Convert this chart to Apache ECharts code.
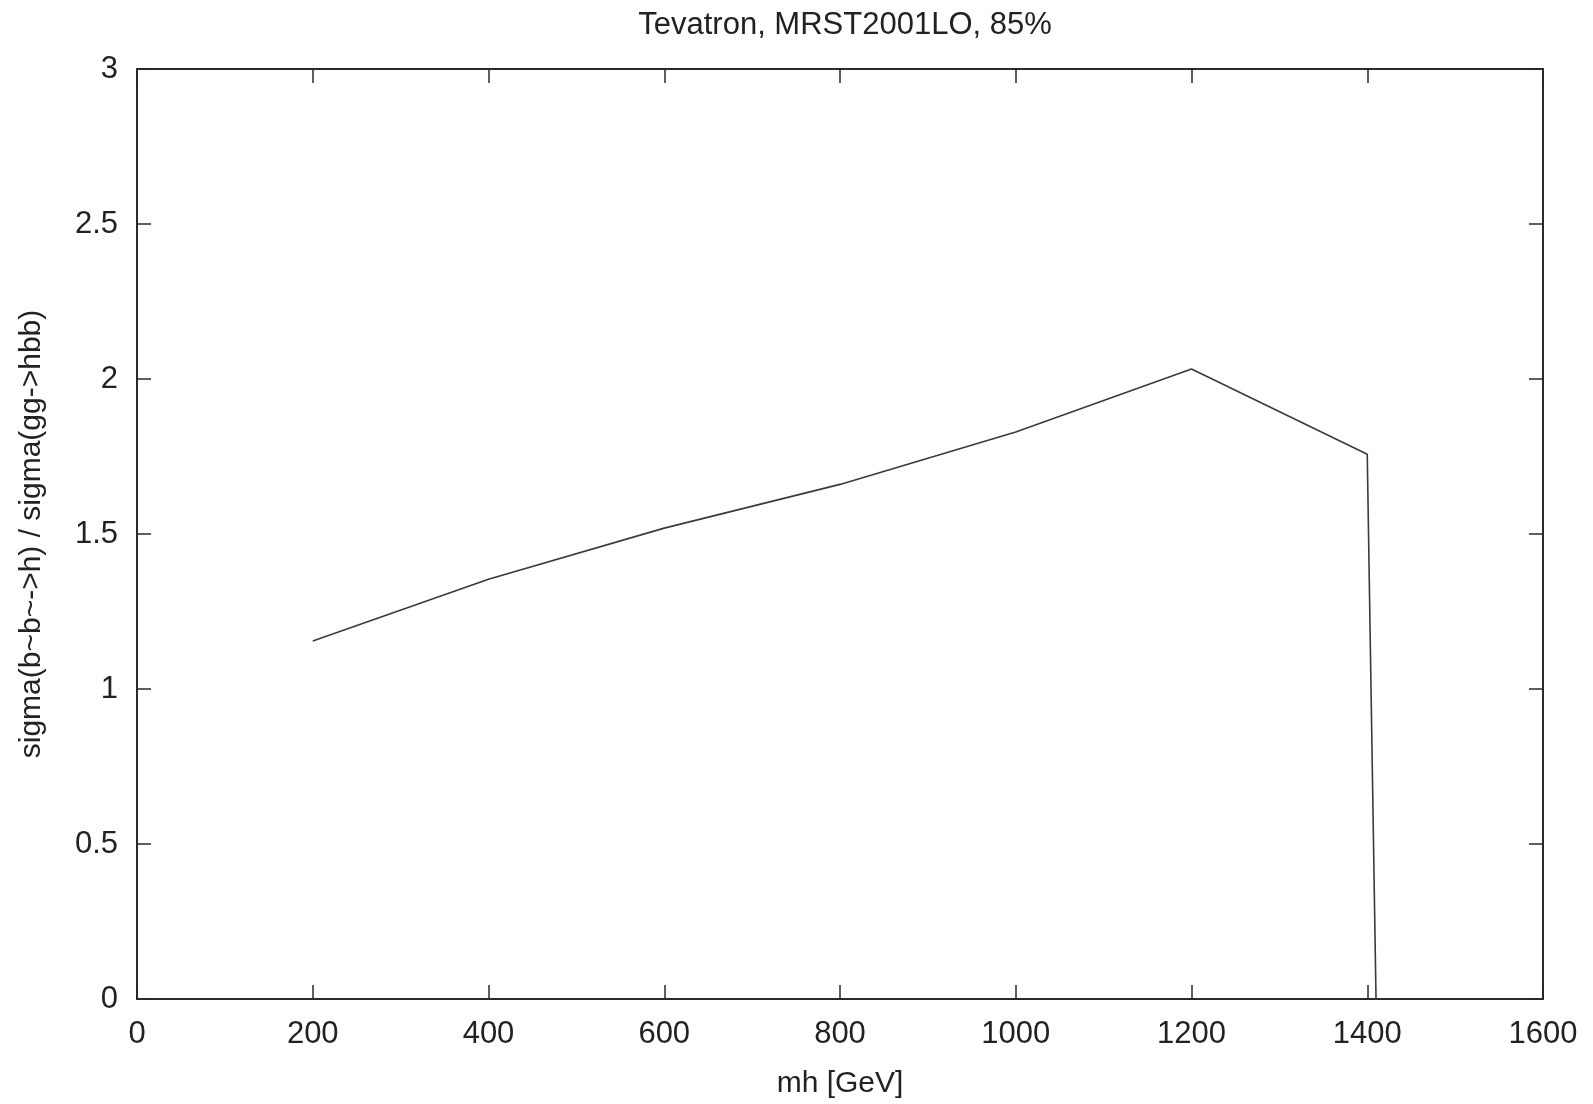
<!DOCTYPE html>
<html>
<head>
<meta charset="utf-8">
<script src="https://cdn.jsdelivr.net/npm/echarts@6/dist/echarts.min.js"></script>
<style>
html,body{margin:0;padding:0;background:#fff;}
#chart{width:1593px;height:1104px;}
</style>
</head>
<body>
<div id="chart"></div>
<script>
// Data
const titleText = 'Tevatron, MRST2001LO, 85%';
const xAxisName = 'mh [GeV]';
const yAxisName = 'sigma(b~b~->h) / sigma(gg->hbb)';
const mh = [200, 400, 600, 800, 1000, 1200, 1400, 1410];
const ratio = [1.155, 1.354, 1.519, 1.660, 1.829, 2.032, 1.757, 0];
const xTicks = [0, 200, 400, 600, 800, 1000, 1200, 1400, 1600];
const yTicks = [0, 0.5, 1, 1.5, 2, 2.5, 3];

const FONT = 'Liberation Sans';
const FS = 30;
const txt = '#222';
const axisCol = '#2a2a2a';

const chart = echarts.init(document.getElementById('chart'), null, {renderer: 'canvas'});
const tickCommon = {show: true, inside: true, length: 14, lineStyle: {color: axisCol, width: 1.5}};
const lineCommon = {show: true, onZero: false, lineStyle: {color: axisCol, width: 2}};

chart.setOption({
  backgroundColor: '#fff',
  animation: false,
  title: {
    text: titleText, left: 840, top: 5, textAlign: 'center',
    textStyle: {fontFamily: FONT, fontSize: 31, fontWeight: 'normal', color: txt}
  },
  grid: {left: 137, right: 50, top: 69, bottom: 100, containLabel: false},
  xAxis: [{
    type: 'value', min: xTicks[0], max: xTicks[xTicks.length - 1], interval: 200,
    position: 'bottom',
    name: xAxisName, nameLocation: 'middle', nameGap: 70,
    nameTextStyle: {fontFamily: FONT, fontSize: FS, color: txt},
    axisLine: lineCommon, axisTick: tickCommon, splitLine: {show: false},
    axisLabel: {fontFamily: FONT, fontSize: 31, color: txt, margin: 20,
      formatter: v => String(v)}
  }, {
    type: 'value', min: xTicks[0], max: xTicks[xTicks.length - 1], interval: 200,
    position: 'top',
    axisLine: lineCommon, axisTick: tickCommon, splitLine: {show: false},
    axisLabel: {show: false}
  }],
  yAxis: [{
    type: 'value', min: yTicks[0], max: yTicks[yTicks.length - 1], interval: 0.5,
    position: 'left',
    name: yAxisName, nameLocation: 'middle', nameGap: 90, nameRotate: 90,
    nameTextStyle: {fontFamily: FONT, fontSize: FS, color: txt},
    axisLine: lineCommon, axisTick: tickCommon, splitLine: {show: false},
    axisLabel: {fontFamily: FONT, fontSize: 31, color: txt, margin: 19,
      formatter: v => String(v)}
  }, {
    type: 'value', min: yTicks[0], max: yTicks[yTicks.length - 1], interval: 0.5,
    position: 'right',
    axisLine: lineCommon, axisTick: tickCommon, splitLine: {show: false},
    axisLabel: {show: false}
  }],
  series: [{
    type: 'line',
    data: mh.map((x, i) => [x, ratio[i]]),
    showSymbol: false, symbol: 'none',
    lineStyle: {color: '#3a3a3a', width: 1.6},
    clip: true
  }]
});
</script>
</body>
</html>
